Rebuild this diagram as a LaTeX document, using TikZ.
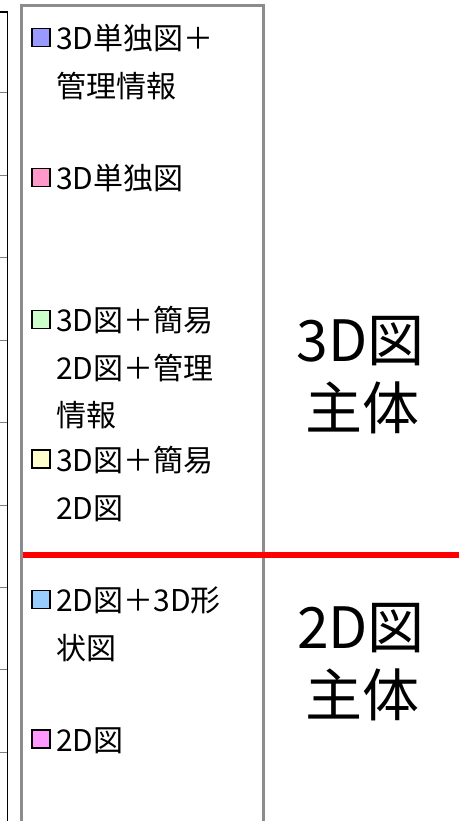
\documentclass[tikz,border=0pt]{standalone}
\usepackage{fontspec}
\setmainfont{Noto Sans CJK JP}
\definecolor{cA}{HTML}{9999FF}
\definecolor{cB}{HTML}{FF99CC}
\definecolor{cC}{HTML}{CCFFCC}
\definecolor{cD}{HTML}{FFFFCC}
\definecolor{cE}{HTML}{99CCFF}
\definecolor{cF}{HTML}{FF99FF}
\definecolor{frame}{HTML}{8C8C8C}
\tikzset{
  sq/.style={draw=black, line width=1.2pt, minimum size=18pt, inner sep=0pt},
  lab/.style={anchor=base west, inner sep=0pt, font=\fontsize{30}{30}\selectfont},
  big/.style={anchor=center, inner sep=0pt, font=\fontsize{57}{57}\selectfont},
}
\begin{document}
\begin{tikzpicture}[x=1pt,y=-1pt]
\useasboundingbox (0,0) rectangle (459,821);
\clip (0,0) rectangle (459,821);
\fill[white] (0,0) rectangle (459,821);
% left ruler
\draw[black, line width=1.5pt] (0,12) -- (7.5,12) -- (7.5,830);
\foreach \k in {0,...,8}
  \draw[gray, line width=1pt] (0,93+82.4*\k) -- (7,93+82.4*\k);
% gray frame
\draw[frame, line width=3pt] (21.5,830) -- (21.5,5.5) -- (263.5,5.5) -- (263.5,830);
% red separator
\draw[red, line width=6pt] (23,554.5) -- (459,554.5);
% legend items
\node[sq, fill=cA] (s1) at (41,37.5) {};
\node[lab] (t1a) at (56,49.5) {3D単独図＋};
\node[lab] (t1b) at (56,97.5) {管理情報};
\node[sq, fill=cB] (s2) at (41,177.5) {};
\node[lab] (t2a) at (56,189.5) {3D単独図};
\node[sq, fill=cC] (s3) at (41,319.5) {};
\node[lab] (t3a) at (56,331.5) {3D図＋簡易};
\node[lab] (t3b) at (56,379) {2D図＋管理};
\node[lab] (t3c) at (56,426.5) {情報};
\node[sq, fill=cD] (s4) at (41,459) {};
\node[lab] (t4a) at (56,471) {3D図＋簡易};
\node[lab] (t4b) at (56,519) {2D図};
\node[sq, fill=cE] (s5) at (41,599.5) {};
\node[lab] (t5a) at (56,611.5) {2D図＋3D形};
\node[lab] (t5b) at (56,659.5) {状図};
\node[sq, fill=cF] (s6) at (41,739) {};
\node[lab] (t6a) at (56,751) {2D図};
% big labels
\node[big] (b1a) at (360.5,341) {3D図};
\node[big] (b1b) at (362.5,408) {主体};
\node[big] (b2a) at (361,628) {2D図};
\node[big] (b2b) at (362.5,695) {主体};
\end{tikzpicture}
\end{document}
